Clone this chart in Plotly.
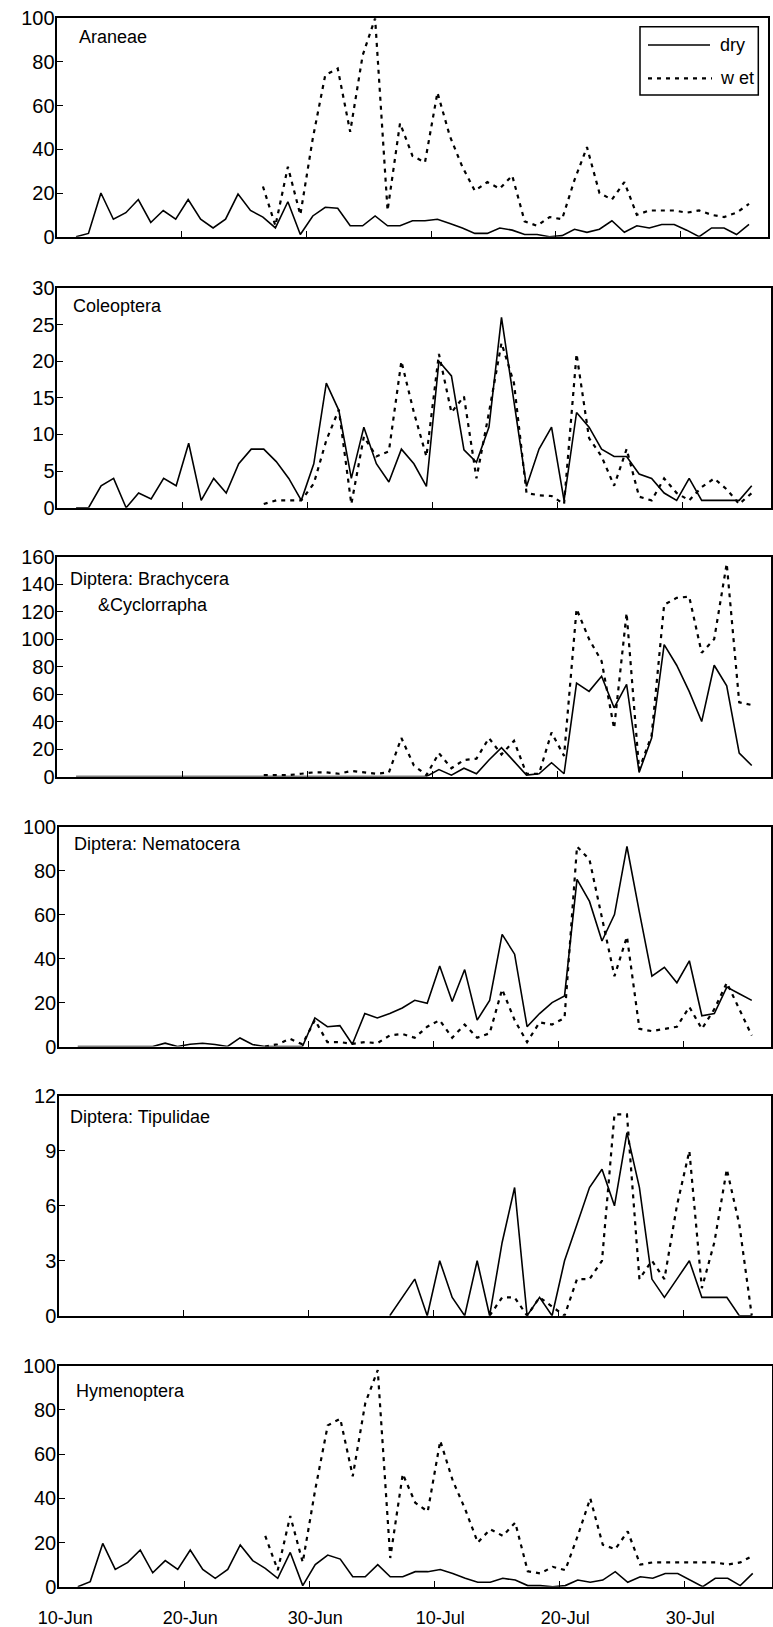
import plotly.graph_objects as go
import pandas as pd

W, H = 773, 1627
N = None

# ---------------- data ----------------
dates = pd.date_range("2009-06-11", "2009-08-04", freq="D")  # 55 sampling days

araneae_dry = [0, 1.5, 20, 8, 11, 17, 6.5, 12, 8, 17,
               8, 4, 8, 19.5, 12, 9, 4, 16, 1, 9.5,
               13.5, 13, 5, 5, 9.5, 5, 5, 7.3, 7.3, 8,
               6, 4, 1.5, 1.5, 4, 3, 1, 1, 0, 0.5,
               3.4, 2, 3.4, 7.3, 2, 5, 4, 5.6, 5.6, 3,
               0, 4, 4, 1, 5.6]
araneae_wet = [N] * 15 + [23, 5, 32, 10, 45,
                          74, 77, 48, 83, 100, 12, 52, 37, 34, 66,
                          46, 32, 21, 25, 22, 28, 7, 5, 9, 8,
                          26, 41, 20, 17, 25, 10, 12, 12, 12, 11,
                          12, 10, 9, 11, 15]

coleoptera_dry = [0, 0, 3, 4, 0, 2, 1.2, 4, 3, 8.8,
                  1, 4, 2, 6, 8, 8, 6.3, 4, 1, 6,
                  17, 13.3, 4, 11, 6, 3.5, 8, 6, 2.9, 20,
                  18, 7.9, 6.2, 11, 26, 14.5, 2.9, 8, 11, 1,
                  13, 11, 8, 7, 7, 4.6, 4, 2, 1, 4,
                  1, 1, 1, 1, 3]
coleoptera_wet = [N] * 15 + [0.5, 1, 1, 1, 3.3,
                             9.2, 13.4, 0.5, 9.7, 7, 7.7, 20, 13, 7, 21,
                             13, 15.2, 4, 13, 22.5, 17, 2, 1.7, 1.6, 0.5,
                             21, 9.5, 7, 3, 8, 1.5, 1, 4, 2, 1,
                             2.8, 4, 2.5, 0.5, 2]

brachy_dry = [0] * 29 + [5,
                         1, 6, 2, 12, 21, 11, 1, 2, 10, 2,
                         68, 62, 73, 50, 67, 3, 28, 96, 81, 62,
                         40, 81, 66, 17, 8]
brachy_wet = [N] * 15 + [1, 1, 1, 2, 3,
                         3, 2, 4, 3, 2, 3, 28, 8, 1, 17,
                         6, 12, 13, 28, 16, 26, 2, 2, 32, 15,
                         122, 100, 84, 35, 119, 5, 30, 125, 130, 131,
                         90, 100, 155, 54, 52]

nemato_dry = [0, 0, 0, 0, 0, 0, 0, 1.5, 0, 1,
              1.5, 0.9, 0, 3.9, 0.9, 0, 0, 0, 0, 13,
              9, 9.5, 1, 15, 13, 15, 17.5, 21, 19.7, 36.6,
              20.5, 35, 12, 21, 51, 42, 9, 15, 20, 23,
              76, 66, 48, 60, 91, 61, 32, 36, 29, 39,
              14, 15, 27, 24, 21]
nemato_wet = [N] * 15 + [0, 1, 3.5, 1, 12,
                         2, 2, 1.2, 2, 1.5, 5, 5.7, 4, 9, 12,
                         4, 10, 4, 6, 26, 12, 2, 11, 10, 13,
                         91, 85, 58, 32, 50, 8, 7, 8, 9, 18,
                         8, 17, 29, 17, 5]

tipul_dry = [N] * 25 + [0, 1, 2, 0, 3,
                        1, 0, 3, 0, 4, 7, 0, 1, 0, 3,
                        5, 7, 8, 6, 10, 7, 2, 1, 2, 3,
                        1, 1, 1, 0, 0]
tipul_wet = [N] * 33 + [0, 1, 1, 0, 1, 0.5, 0,
                        2, 2, 3, 11, 11, 2, 3, 2, 6, 9,
                        1.5, 4, 8, 5, 0]

hymen_dry = [0, 2.3, 19.6, 7.8, 11, 16.6, 6.3, 11.8, 7.8, 16.6,
             7.8, 3.8, 7.8, 18.9, 11.8, 8.3, 3.8, 15.5, 0.5, 10,
             14.3, 12.5, 4.5, 4.5, 10, 4.5, 4.5, 6.8, 6.8, 7.8,
             6, 3.8, 2, 2, 3.8, 3, 0.5, 0.5, 0, 0.5,
             3, 2, 3, 6.8, 2, 4.5, 3.8, 6, 6, 3,
             0, 3.8, 3.8, 0.5, 6]
hymen_wet = [N] * 15 + [23, 7.5, 32, 11, 44,
                        73, 76, 50, 83, 98, 13, 51, 38, 34, 66,
                        48, 35, 20, 26, 23, 29, 7, 6, 9, 7.5,
                        23, 40, 19, 17, 25, 10, 11, 11, 11, 11,
                        11, 11, 10, 11, 14]

panel_names = ["Araneae", "Coleoptera", "Diptera: Brachycera", "Diptera: Nematocera",
               "Diptera: Tipulidae", "Hymenoptera"]
dry_series = [araneae_dry, coleoptera_dry, brachy_dry, nemato_dry, tipul_dry, hymen_dry]
wet_series = [araneae_wet, coleoptera_wet, brachy_wet, nemato_wet, tipul_wet, hymen_wet]
y_max = [100, 30, 160, 100, 12, 100]
y_step = [20, 5, 20, 20, 3, 20]

x_label_dates = ["2009-06-10", "2009-06-20", "2009-06-30", "2009-07-10", "2009-07-20", "2009-07-30"]
x_labels = ["10-Jun", "20-Jun", "30-Jun", "10-Jul", "20-Jul", "30-Jul"]
x_tick_marks = ["2009-06-19 12:00", "2009-06-29 12:00", "2009-07-09 12:00",
                "2009-07-19 12:00", "2009-07-29 12:00"]
x_range = ["2009-06-09 12:00", "2009-08-05 12:00"]

# ---------------- layout geometry (pixels) ----------------
panel_top = [18.3, 288.0, 556.7, 826.7, 1096.0, 1365.7]
panel_bot = [236.7, 507.7, 776.5, 1046.5, 1315.7, 1586.7]
panel_left = [57.3, 57.3, 57.3, 59.0, 59.0, 59.0]
panel_right = [767.7, 770.5, 770.5, 770.5, 770.5, 771.5]

FONT = "Liberation Sans, Arial, sans-serif"


def px(x):
    return x / W


def py(y):
    return 1 - y / H


fig = go.Figure()
layout = {}
for i in range(6):
    sfx = "" if i == 0 else str(i + 1)
    xa, ya = "x" + sfx, "y" + sfx
    fig.add_trace(go.Scatter(x=dates, y=dry_series[i], mode="lines", name="dry",
                             line=dict(color="black", width=1.6), connectgaps=False,
                             xaxis=xa, yaxis=ya, showlegend=False))
    fig.add_trace(go.Scatter(x=dates, y=wet_series[i], mode="lines", name="wet",
                             line=dict(color="black", width=2.2, dash="4px,5px"),
                             connectgaps=False, xaxis=xa, yaxis=ya, showlegend=False))
    layout["xaxis" + sfx] = dict(
        type="date", range=x_range, domain=[px(panel_left[i]), px(panel_right[i])],
        anchor=ya, showgrid=False, zeroline=False, showline=True, linecolor="black",
        linewidth=1.5, mirror=True, ticks="", tickmode="array", tickvals=x_label_dates,
        ticktext=x_labels, showticklabels=(i == 5), automargin=False,
        tickfont=dict(family=FONT, size=18, color="black"), ticklabelstandoff=14,
        minor=dict(tickmode="array", tickvals=x_tick_marks, ticks="inside", ticklen=6,
                   tickwidth=1.3, tickcolor="black", showgrid=False),
    )
    layout["yaxis" + sfx] = dict(
        range=[0, y_max[i]], domain=[py(panel_bot[i]), py(panel_top[i])], anchor=xa,
        showgrid=False, zeroline=False, showline=True, linecolor="black", linewidth=1.5,
        mirror=True, ticks="inside", ticklen=6, tickwidth=1.3, tickcolor="black",
        tickmode="linear", tick0=0, dtick=y_step[i], automargin=False,
        tickfont=dict(family=FONT, size=20, color="black"), ticklabelstandoff=-3,
    )

fig.update_layout(**layout)

# panel titles
title_pos = [(79, 37.5, "Araneae"), (72.7, 306, "Coleoptera"),
             (70, 579.3, "Diptera: Brachycera"), (98.3, 605, "&Cyclorrapha"),
             (74, 844, "Diptera: Nematocera"), (70, 1117, "Diptera: Tipulidae"),
             (76, 1391, "Hymenoptera")]
annotations = []
for x, y, t in title_pos:
    annotations.append(dict(x=px(x - 2), y=py(y), xref="paper", yref="paper", text=t,
                            showarrow=False, xanchor="left", yanchor="middle",
                            font=dict(family=FONT, size=18, color="black")))

# legend (drawn in the first panel)
annotations.append(dict(x=px(718), y=py(45), xref="paper", yref="paper", text="dry",
                        showarrow=False, xanchor="left", yanchor="middle",
                        font=dict(family=FONT, size=18, color="black")))
annotations.append(dict(x=px(718), y=py(78.3), xref="paper", yref="paper", text="w et",
                        showarrow=False, xanchor="left", yanchor="middle",
                        font=dict(family=FONT, size=18, color="black")))
shapes = [
    dict(type="rect", xref="paper", yref="paper", x0=px(640), x1=px(758.3), y0=py(26.7),
         y1=py(95), line=dict(color="black", width=1.5), fillcolor="white"),
    dict(type="line", xref="paper", yref="paper", x0=px(648), x1=px(710), y0=py(45),
         y1=py(45), line=dict(color="black", width=1.6)),
    dict(type="line", xref="paper", yref="paper", x0=px(648), x1=px(712), y0=py(78.3),
         y1=py(78.3), line=dict(color="black", width=2.2, dash="4px,5px")),
]

fig.update_layout(width=W, height=H, margin=dict(l=0, r=0, t=0, b=0),
                  paper_bgcolor="white", plot_bgcolor="white", showlegend=False,
                  annotations=annotations, shapes=shapes, template="none")

fig.write_html("out.html")
